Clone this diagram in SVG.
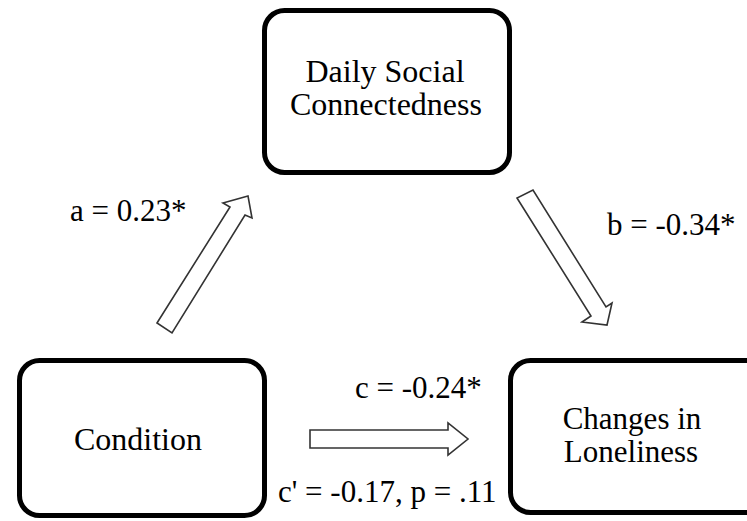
<svg xmlns="http://www.w3.org/2000/svg" width="747" height="521" viewBox="0 0 747 521">
<style>
.box{fill:#fff;stroke:#000;stroke-width:5}
.t{font-family:'Liberation Serif','DejaVu Serif','Times New Roman',serif;font-size:31px;fill:#000}
.n{font-size:32px}
.m{text-anchor:middle}
.arr{fill:#fff;stroke:#333;stroke-width:1.6;stroke-linejoin:miter}
</style>
<rect width="747" height="521" fill="#fff"/>
<g id="connectors">
<polygon class="arr" points="157,323 230,207 223,203 248,196 252,218 245,215 172,333"/>
<polygon class="arr" points="517,198 591,316 582,322 607,325 612,303 606,307 533,190"/>
<polygon class="arr" points="310,430 448,430 448,423 468,439 448,455 448,448 310,448"/>
</g>
<g id="node-dsc">
<rect class="box" x="264.5" y="10.5" width="245" height="162" rx="20"/>
<text class="t n m" x="385" y="82">Daily Social</text>
<text class="t n m" x="386" y="115">Connectedness</text>
</g>
<g id="node-condition">
<rect class="box" x="19.5" y="360.5" width="245" height="155" rx="20"/>
<text class="t n m" x="138" y="450">Condition</text>
</g>
<g id="node-loneliness">
<rect class="box" x="510.5" y="360.5" width="260" height="152" rx="20"/>
<text class="t m" x="632" y="429">Changes in</text>
<text class="t m" x="631" y="462">Loneliness</text>
</g>
<g id="labels">
<text class="t" x="70" y="221">a = 0.23*</text>
<text class="t" x="607" y="235">b = -0.34*</text>
<text class="t" x="355" y="398">c = -0.24*</text>
<text class="t" x="278" y="502">c' = -0.17, p = .11</text>
</g>
</svg>
